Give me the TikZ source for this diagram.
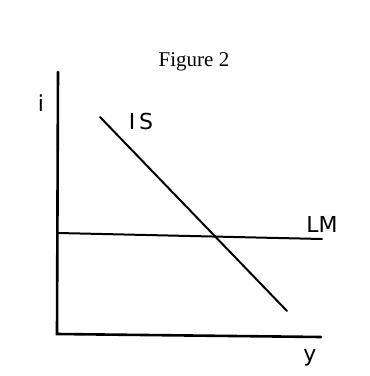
\documentclass[tikz,border=0pt]{standalone}
\usepackage{fontspec}
\setmainfont{Liberation Serif}
\newfontfamily\handfont{DejaVu Sans}
\tikzset{
    axis/.style={line width=2.6pt, line cap=round},
    curve/.style={line width=2pt, line cap=round},
    hand/.style={font=\handfont\fontsize{22}{22}\selectfont, inner sep=0pt},
    title/.style={font=\fontsize{21}{21}\selectfont, inner sep=0pt},
}
\begin{document}
\begin{tikzpicture}[x=1pt, y=-1pt]
    \useasboundingbox (0,0) rectangle (370,376);
    \node[title] (fig) at (194, 62) {Figure 2};

    % axes
    \coordinate (top) at (58, 72);
    \coordinate (origin) at (57, 334);
    \coordinate (right) at (321, 337);
    \draw[axis] (top) -- (origin) -- (right);
    \node[hand] (ilabel) at (41, 103) {i};
    \node[hand] (ylabel) at (310, 358) {y};

    % IS and LM
    \coordinate (isstart) at (100, 117);
    \coordinate (isend) at (287, 311);
    \draw[curve] (isstart) -- (isend);
    \node[hand] (islabel) at (141, 121) {I\hspace{4pt}S};
    \coordinate (lmstart) at (58, 233);
    \coordinate (lmend) at (322, 239);
    \draw[curve] (lmstart) -- (lmend);
    \node[hand] (lmlabel) at (322, 224) {LM};
\end{tikzpicture}
\end{document}
